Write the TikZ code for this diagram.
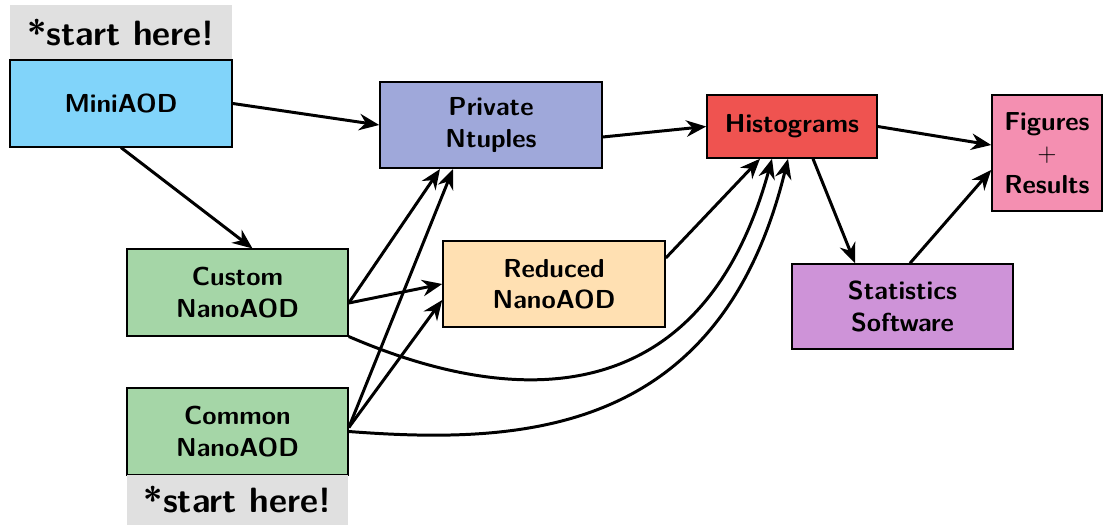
\documentclass[tikz,border=0pt]{standalone}
\definecolor{miniblue}{RGB}{129,212,250}
\definecolor{ntupleblue}{RGB}{159,168,218}
\definecolor{histred}{RGB}{239,83,80}
\definecolor{figpink}{RGB}{244,143,177}
\definecolor{statpurple}{RGB}{206,147,216}
\definecolor{reducedorange}{RGB}{255,224,178}
\definecolor{nanogreen}{RGB}{165,214,167}
\definecolor{startgray}{RGB}{224,224,224}
\usepackage{tikz}
\usetikzlibrary{arrows.meta,positioning,calc}

\begin{document}
\begin{tikzpicture}[
      box/.style={draw, line width=0.9pt, minimum width=4.44cm, minimum height=1.73cm,
                  align=center, inner sep=2pt,
                  font=\sffamily\bfseries\fontsize{14.8}{17.8}\selectfont},
      startbox/.style={fill=startgray, minimum width=4.44cm, align=center,
                  font=\sffamily\bfseries\fontsize{20}{24}\selectfont},
      arr/.style={-{Stealth[length=4mm, width=3.3mm]}, line width=1.7pt}
    ]
      \useasboundingbox (0,0) rectangle (22.06,10.5);
      % input formats
      \node[startbox, minimum height=1.1cm] (startA) at (2.42,9.85) {*start here!};
      \node[box, fill=miniblue] (mini) at (2.42,8.43) {MiniAOD};
      \node[box, fill=nanogreen, minimum width=4.42cm] (custom) at (4.75,4.65) {Custom\\NanoAOD};
      \node[box, fill=nanogreen, minimum width=4.42cm] (common) at (4.75,1.87) {Common\\NanoAOD};
      \node[startbox, minimum height=1.0cm, minimum width=4.42cm] (startB) at (4.75,0.5) {*start here!};
      % intermediate and output
      \node[box, fill=ntupleblue] (priv) at (9.82,8.0) {Private\\Ntuples};
      \node[box, fill=reducedorange] (reduced) at (11.08,4.82) {Reduced\\NanoAOD};
      \node[box, fill=histred, minimum width=3.4cm, minimum height=1.26cm] (hist) at (15.84,7.97) {Histograms};
      \node[box, fill=statpurple, minimum width=4.42cm, minimum height=1.7cm] (stats) at (18.05,4.37) {Statistics\\Software};
      \node[box, fill=figpink, minimum width=2.2cm, minimum height=2.32cm] (figs) at (20.94,7.44) {Figures\\$+$\\Results};

      \draw[arr] (mini.east) -- (priv.west);
      \draw[arr] (mini.south) -- ($(custom.north)+(0.3,0)$);
      \draw[arr] ([yshift=-0.24cm]priv.east) -- (hist.west);
      \draw[arr] (hist.east) -- ([yshift=0.16cm]figs.west);
      \draw[arr] ([xshift=0.42cm]hist.south) -- ([xshift=-0.95cm]stats.north);
      \draw[arr] ([xshift=0.15cm]stats.north) -- ([yshift=-0.34cm]figs.west);
      \draw[arr] ([yshift=-0.21cm]custom.east) -- ([xshift=-1.02cm]priv.south);
      \draw[arr] ([yshift=-0.21cm]custom.east) -- (reduced.west);
      \draw[arr] ([yshift=0.08cm]common.east) -- ([xshift=-0.76cm]priv.south);
      \draw[arr] ([yshift=0.08cm]common.east) -- ([yshift=-0.32cm]reduced.west);
      \draw[arr] ([yshift=0.52cm]reduced.east) -- ([xshift=-0.64cm]hist.south);
      \draw[arr] (custom.south east) .. controls +(2.04,-0.88) and +(-1.64,-5.96) .. ([xshift=-0.4cm]hist.south);
      \draw[arr] (common.east) .. controls +(3.44,-0.26) and +(-1.36,-5.56) .. ([xshift=-0.08cm]hist.south);
    \end{tikzpicture}
\end{document}
